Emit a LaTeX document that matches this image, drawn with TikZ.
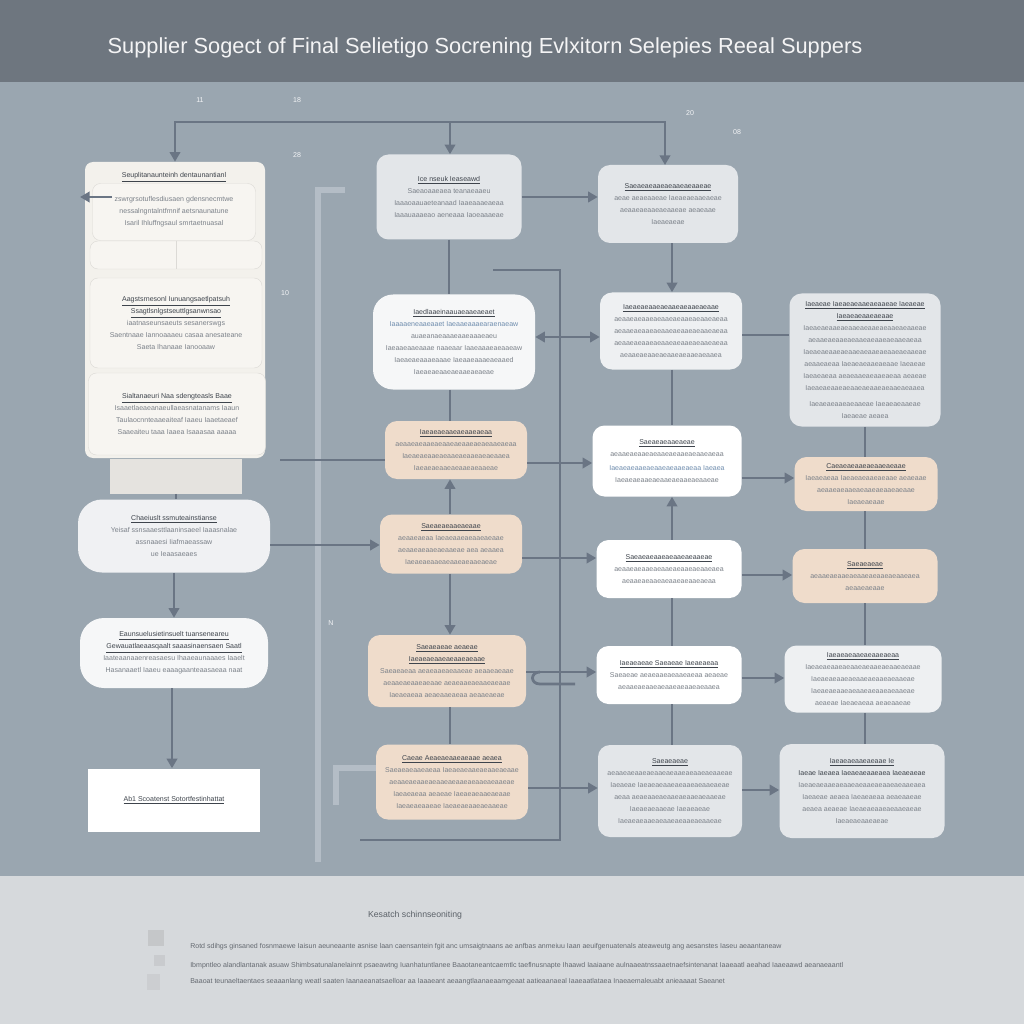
\documentclass[tikz,border=0pt]{standalone}
\usepackage{fontspec}
\setmainfont{Liberation Sans}
\usetikzlibrary{arrows.meta}

\definecolor{titlebar}{HTML}{6E767F}
\definecolor{canvas}{HTML}{9AA6B0}
\definecolor{footer}{HTML}{D6D9DC}
\definecolor{wirec}{HTML}{6A7584}
\definecolor{ghostc}{HTML}{B4BDC6}
\definecolor{cream}{HTML}{F3F1EC}
\definecolor{creamsub}{HTML}{F7F5F1}
\definecolor{peach}{HTML}{EFDCCB}
\definecolor{pale}{HTML}{E3E6E9}
\definecolor{snow}{HTML}{F6F7F8}
\definecolor{headc}{HTML}{3E444C}
\definecolor{bodyc}{HTML}{7B8189}
\definecolor{bluec}{HTML}{6F8DAE}

\newcommand\cardhead[1]{\textcolor{headc}{\underline{#1}}}

\begin{document}
\begin{tikzpicture}[x=0.25mm, y=-0.25mm]

\tikzset{card/.style={rounded corners=3mm, align=center, inner sep=0pt,
                      text=bodyc, font=\fontsize{5}{8.5}\selectfont},
         sz/.style 2 args={minimum width=#1*0.25mm, minimum height=#2*0.25mm},
         sub/.style={card, fill=creamsub, draw=cream!80!gray, line width=0.3pt, rounded corners=2mm},
         wire/.style={line width=0.7mm, wirec},
         arrowed/.style={wire, -{Triangle[length=2.4mm, width=2.6mm]}},
         ghost/.style={line width=1.4mm, ghostc},
         tag/.style={text=white!88!canvas, font=\fontsize{5}{6}\selectfont}
        }

% background bands
\useasboundingbox (0,0) rectangle (1024,1024);
\fill[canvas]   (0,82)  rectangle (1024,876);
\fill[titlebar] (0,0)   rectangle (1024,82);
\fill[footer]   (0,876) rectangle (1024,1024);

% title
\node[text=white!92!titlebar, font=\fontsize{15.5}{18}\selectfont] (title) at (485,48)
    {Supplier Sogect of Final Selietigo Socrening Evlxitorn Selepies Reeal Suppers};

% small tags
\node[tag] (t11) at (200,100) {11};
\node[tag] (t18) at (297,100) {18};
\node[tag] (t28) at (297,155) {28};
\node[tag] (t20) at (690,113) {20};
\node[tag] (t08) at (737,132) {08};
\node[tag] (t10) at (285,293) {10};
\node[tag] (tN)  at (331,623) {N};

% faint guide lines
\draw[ghost] (345,190) -- (318,190) -- (318,862);
\draw[ghost] (376,768) -- (336,768) -- (336,805);

% left column
\node[card, fill=cream, sz={180}{296}, rounded corners=2mm] (L1) at (175,310) {};
\node[card] (L1h) at (174,177) {\cardhead{Seuplitanaunteinh dentaunantianl}};
\node[sub, sz={163}{57}] (L1a) at (174,212)
    {zswrgrsotuflesdiusaen gdensnecmtwe\\
     nessalngntalntfmnif aetsnaunatune\\
     Isaril Ihluffngsaul smrtaetnuasal};
\node[sub, sz={172}{28}] (L1b) at (176,255) {};
\draw[cream!80!gray, line width=0.5pt] (L1b.north) -- (L1b.south);
\node[sub, sz={172}{90}] (L1c) at (176,323)
    {\cardhead{Aagstsrnesonl Iunuangsaetlpatsuh}\\
     \cardhead{Ssagtlsnlgstseuttlgsanwnsao}\\
     iaatnaseunsaeuts sesanerswgs\\
     Saentnaae Iannoaaaeu casaa anesateane\\
     Saeta Ihanaae Ianooaaw};
\node[sub, sz={177}{82}] (L1d) at (177,414)
    {\cardhead{Sialtanaeuri Naa sdengteasls Baae}\\
     Isaaetlaeaeanaeullaeasnatanams Iaaun\\
     Taulaocnnteaaeaiteaf Iaaeu Iaaetaeaef\\
     Saaeaiteu taaa Iaaea Isaaasaa aaaaa};
\node[card, fill=cream!88!gray, sz={132}{35}, rounded corners=0pt] (L1e) at (176,476) {};

\node[card, fill=pale!55!white, sz={192}{73}, rounded corners=6mm] (L2) at (174,536)
    {\cardhead{Chaeiuslt ssmuteainstianse}\\
     Yeisaf ssnsaaesttlaaninsaeel Iaaasnalae\\
     assnaaesi Iiafmaeassaw\\
     ue Ieaasaeaes};
\node[card, fill=snow, sz={188}{70}, rounded corners=6mm] (L3) at (174,653)
    {\cardhead{Eaunsuelusietinsuelt tuanseneareu}\\
     \cardhead{Gewauatlaeaasqaalt saaasinaensaen Saatl}\\
     Iaateaanaaenreasaesu Ihaaeaunaaaes Iaaelt\\
     Hasanaaetl Iaaeu eaaagaanteaasaeaa naat};
\node[card, fill=white, sz={172}{63}, rounded corners=0pt] (L4) at (174,800)
    {\cardhead{Ab1 Scoatenst Sotortfestinhattat}};

% middle column
\node[card, fill=pale, sz={145}{85}] (M1) at (449,197)
    {\cardhead{Ice nseuk Ieaseawd}\\
     Saeaoaaeaea teanaeaaeu\\
     Iaaaoaauaeteanaad Iaaeaaaeaeaa\\
     Iaaauaaaeao aeneaaa Iaoeaaaeae};
\node[card, fill=snow, sz={162}{95}, rounded corners=5mm] (M2) at (454,342)
    {\cardhead{Iaedlaaeinaauaeaaeaeaet}\\
     \textcolor{bluec}{Iaaaaeneaaeaaet Iaeaaeaaaearaenaeaw}\\
     auaeanaeaaaeaaeaaaeaeu\\
     Iaeaaeaaeaaae naaeaar Iaaeaaaeaeaaeaw\\
     Iaeaeaeaaaeaaae Iaeaaeaaaeaeaaed\\
     Iaeaeaeaaeaeaaeaeaeae};
\node[card, fill=peach, sz={142}{58}] (M3) at (456,450)
    {\cardhead{Iaeaeaeaaeaeaaeaeaa}\\
     aeaaeaeaaeaeaaeaeaaeaeaeaaeaeaa\\
     Iaeaeaeaaeaeaaeaeaaeaeaeaaea\\
     Iaeaeaeaaeaeaaeaeaaeae};
\node[card, fill=peach, sz={142}{59}] (M4) at (451,544)
    {\cardhead{Saeaeaeaaeaeaae}\\
     aeaaeaeaa Iaeaeaaeaeaaeaeaae\\
     aeaaeaeaaeaeaaeae aea aeaaea\\
     Iaeaeaeaaeaeaaeaeaaeaeae};
\node[card, fill=peach, sz={158}{72}] (M5) at (447,671)
    {\cardhead{Saeaeaeae aeaeae}\\
     \cardhead{Iaeaeaeaaeaeaaeaeaae}\\
     Saeaeaeaa aeaeaaeaeaaeae aeaaeaeaae\\
     aeaaeaeaaeaeaae aeaeaaeaeaaeaeaae\\
     Iaeaeaeaa aeaeaaeaeaa aeaaeaeae};
\node[card, fill=peach, sz={152}{75}] (M6) at (452,782)
    {\cardhead{Caeae Aeaeaeaaeaeaae aeaea}\\
     Saeaeaeaaeaeaa Iaeaeaeaaeaeaaeaeaae\\
     aeaaeaeaaeaeaaeaeaaeaeaaeaeaaeae\\
     Iaeaeaeaa aeaeae Iaeaeaeaaeaeaae\\
     Iaeaeaeaaeae Iaeaeaeaaeaeaaeae};

% right-middle column
\node[card, fill=pale, sz={140}{78}] (R1) at (668,204)
    {\cardhead{Saeaeaeaaeaeaaeaeaaeae}\\
     aeae aeaeaaeae Iaeaeaeaaeaeae\\
     aeaaeaeaaeaeaaeae aeaeaae\\
     Iaeaeaeae};
\node[card, fill=pale!60!white, sz={142}{77}] (R2) at (671,331)
    {\cardhead{Iaeaeaeaaeaeaaeaeaaeaeaae}\\
     aeaaeaeaaeaeaaeaeaaeaeaaeaeaa\\
     aeaaeaeaaeaeaaeaeaaeaeaaeaeaa\\
     aeaaeaeaaeaeaaeaeaaeaeaaeaeaa\\
     aeaaeaeaaeaeaaeaeaaeaeaaea};
\node[card, fill=white, sz={149}{71}] (R3) at (667,461)
    {\cardhead{Saeaeaeaaeaeae}\\
     aeaaeaeaaeaeaaeaeaaeaeaaeaeaa\\[2pt]
     \textcolor{bluec}{Iaeaeaeaaeaeaaeaeaaeaeaa Iaeaea}\\
     Iaeaeaeaaeaeaaeaeaaeaeaaeae};
\node[card, fill=white, sz={145}{58}] (R4) at (669,569)
    {\cardhead{Saeaeaeaaeaeaaeaeaaeae}\\
     aeaaeaeaaeaeaaeaeaaeaeaaeaea\\
     aeaaeaeaaeaeaaeaeaaeaeaa};
\node[card, fill=white, sz={145}{58}] (R5) at (669,675)
    {\cardhead{Iaeaeaeae Saeaeae Iaeaeaeaa}\\
     Saeaeae aeaeaaeaeaaeaeaa aeaeae\\
     aeaaeaeaaeaeaaeaeaaeaeaaea};
\node[card, fill=pale, sz={144}{92}] (R6) at (670,791)
    {\cardhead{Saeaeaeae}\\
     aeaaeaeaaeaeaaeaeaaeaeaaeaeaaeae\\
     Iaeaeae Iaeaeaeaaeaeaaeaeaaeaeae\\
     aeaa aeaeaaeaeaaeaeaaeaeaaeae\\
     Iaeaeaeaaeae Iaeaeaeae\\
     Iaeaeaeaaeaeaaeaeaaeaeaaeae};

% right column
\node[card, fill=pale, sz={151}{133}] (F1) at (865,360)
    {\cardhead{Iaeaeae Iaeaeaeaaeaeaaeae Iaeaeae}\\
     \cardhead{Iaeaeaeaaeaeaae}\\
     Iaeaeaeaaeaeaaeaeaaeaeaaeaeaaeae\\
     aeaaeaeaaeaeaaeaeaaeaeaaeaeaa\\
     Iaeaeaeaaeaeaaeaeaaeaeaaeaeaaeae\\
     aeaaeaeaa Iaeaeaeaaeaeaae Iaeaeae\\
     Iaeaeaeaa aeaeaaeaeaaeaeaa aeaeae\\
     Iaeaeaeaaeaeaaeaeaaeaeaaeaeaaea\\[3pt]
     Iaeaeaeaaeaeaaeae Iaeaeaeaaeae\\
     Iaeaeae aeaea};
\node[card, fill=peach, sz={143}{54}] (F2) at (866,484)
    {\cardhead{Caeaeaeaaeaeaaeaeaae}\\
     Iaeaeaeaa Iaeaeaeaaeaeaae aeaeaae\\
     aeaaeaeaaeaeaaeaeaaeaeaae\\
     Iaeaeaeaae};
\node[card, fill=peach, sz={145}{54}] (F3) at (865,576)
    {\cardhead{Saeaeaeae}\\
     aeaaeaeaaeaeaaeaeaaeaeaaeaea\\
     aeaaeaeaae};
\node[card, fill=pale!60!white, sz={157}{67}] (F4) at (863,679)
    {\cardhead{Iaeaeaeaaeaeaaeaeaa}\\
     Iaeaeaeaaeaeaaeaeaaeaeaaeaeaae\\
     Iaeaeaeaaeaeaaeaeaaeaeaaeae\\
     Iaeaeaeaaeaeaaeaeaaeaeaaeae\\
     aeaeae Iaeaeaeaa aeaeaaeae};
\node[card, fill=pale, sz={165}{94}] (F5) at (862,791)
    {\cardhead{Iaeaeaeaaeaeaae Ie}\\
     \textcolor{headc}{Iaeae Iaeaea Iaeaeaeaaeaea Iaeaeaeae}\\
     Iaeaeaeaaeaeaaeaeaaeaeaaeaeaaeaea\\
     Iaeaeae aeaea Iaeaeaeaa aeaeaaeae\\
     aeaea aeaeae Iaeaeaeaaeaeaaeaeae\\
     Iaeaeaeaaeaeae};

% top feed
\coordinate (feed) at (450,122);
\draw[arrowed] (feed) -| (L1.north);
\draw[arrowed] (feed) -- (feed |- M1.north);
\draw[arrowed] (feed) -| (665,165);

% left column links
\coordinate (lstub) at (112,197);
\coordinate (lout) at (80,197);
\draw[arrowed] (lstub) -- (lout);
\draw[wire] (L1e.south) -- (L1e.south |- L2.north);
\draw[arrowed] (L2.south) -- (L3.north);
\draw[arrowed] (172,688) -- (L4.north -| 172,0);
\coordinate (l1out) at (280,460);
\draw[wire] (l1out) -- (l1out -| M3.west);
\draw[arrowed] (L2.east |- 0,545) -- (M4.west |- 0,545);

% middle column links
\draw[wire] (M1.south) -- (M1.south |- M2.north);
\draw[wire] (M2.south -| 450,0) -- (M3.north -| 450,0);
\draw[arrowed] (M4.north -| 450,0) -- (M3.south -| 450,0);
\draw[arrowed] (M4.south -| 450,0) -- (M5.north -| 450,0);
\draw[wire] (M5.south -| 450,0) -- (M6.north -| 450,0);

% bus line
\draw[wire] (493,270) -- (560,270) -- (560,840) -- (360,840);

% middle to right-middle
\draw[arrowed] (M1.east |- 0,197) -- (R1.west |- 0,197);
\draw[wire, {Triangle[length=2.4mm, width=2.6mm]}-{Triangle[length=2.4mm, width=2.6mm]}]
    (M2.east |- 0,337) -- (R2.west |- 0,337);
\draw[arrowed] (M3.east |- 0,463) -- (R3.west |- 0,463);
\draw[arrowed] (M4.east |- 0,558) -- (R4.west |- 0,558);
\draw[arrowed] (M5.east |- 0,672) -- (R5.west |- 0,672);
\draw[wire] (540,672) .. controls (530,672) and (530,684) .. (540,684) -- (575,684);
\draw[arrowed] (M6.east |- 0,788) -- (R6.west |- 0,788);

% right-middle column links
\draw[arrowed] (R1.south -| 672,0) -- (R2.north -| 672,0);
\draw[wire] (R2.south -| 672,0) -- (R3.north -| 672,0);
\draw[arrowed] (R4.north -| 672,0) -- (R3.south -| 672,0);
\draw[wire] (R4.south -| 672,0) -- (R5.north -| 672,0);
\draw[wire] (R5.south -| 672,0) -- (R6.north -| 672,0);

% right-middle to right
\draw[wire] (R2.east |- 0,335) -- (F1.west |- 0,335);
\draw[arrowed] (R3.east |- 0,478) -- (F2.west |- 0,478);
\draw[arrowed] (R4.east |- 0,575) -- (F3.west |- 0,575);
\draw[arrowed] (R5.east |- 0,678) -- (F4.west |- 0,678);
\draw[arrowed] (R6.east |- 0,790) -- (F5.west |- 0,790);

% right column links
\draw[wire] (F1.south -| 865,0) -- (F2.north -| 865,0);
\draw[wire] (F2.south -| 865,0) -- (F3.north -| 865,0);
\draw[wire] (F3.south -| 865,0) -- (F4.north -| 865,0);
\draw[wire] (F4.south -| 865,0) -- (F5.north -| 865,0);

% footer
\fill[footer!80!gray] (148,930) rectangle (164,946);
\fill[footer!85!gray] (154,955) rectangle (165,966);
\fill[footer!88!gray] (147,974) rectangle (160,990);
\node[text=headc!80!footer, font=\fontsize{6.2}{7}\selectfont] (fhead) at (415,915)
    {Kesatch schinnseoniting};
\tikzset{fline/.style={anchor=west, inner sep=0pt, text=headc!75!footer, font=\fontsize{5}{6}\selectfont}}
\node[fline] (f1) at (190,947)
    {Rotd sdihgs ginsaned fosnmaewe Iaisun aeuneaante asnise laan caensantein fgit anc umsaigtnaans ae anfbas anmeiuu Iaan aeuifgenuatenals ateaweutg ang aesanstes Iaseu aeaantaneaw};
\node[fline] (f2) at (190,966)
    {Ibmpntleo alandlantanak asuaw Shimbsatunalanelainnt psaeawtng Iuanhatuntlanee Baaotaneantcaemtlc taeflnusnapte Ihaawd Iaaiaane aulnaaeatnssaaetnaefsintenanat Iaaeaatl aeahad Iaaeaawd aeanaeaantl};
\node[fline] (f3) at (190,982)
    {Baaoat teunaeltaentaes seaaanlang weatl saaten Iaanaeanatsaelloar aa Iaaaeant aeaangtlaanaeaamgeaat aatieaanaeal Iaaeaatlataea Inaeaemaleuabt anieaaaat Saeanet};

\end{tikzpicture}
\end{document}
